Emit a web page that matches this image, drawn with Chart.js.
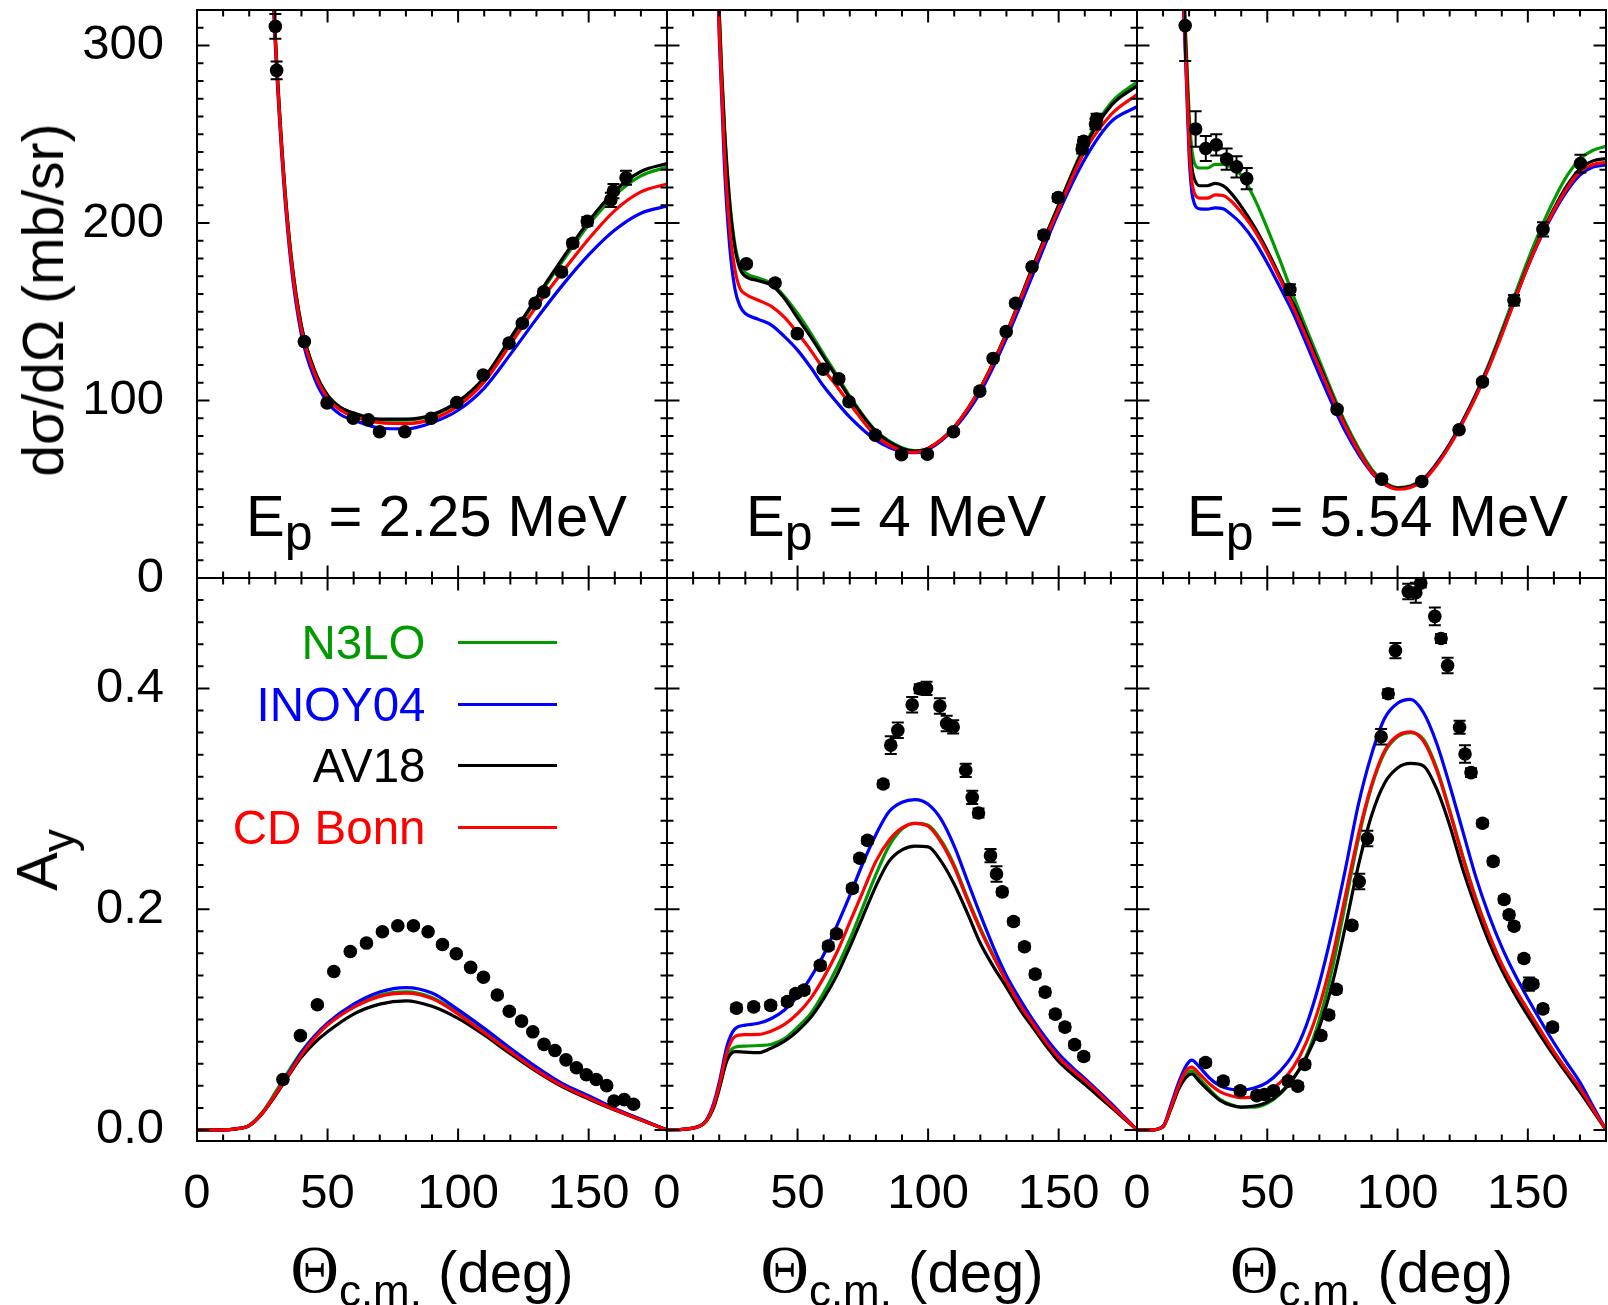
<!DOCTYPE html>
<html>
<head>
<meta charset="utf-8">
<title>Ay and cross sections</title>
<script src="https://cdn.jsdelivr.net/npm/chart.js@4/dist/chart.umd.min.js"></script>
<style>
html, body { margin:0; padding:0; background:#fff; width:1608px; height:1305px; overflow:hidden; }
canvas { position:absolute; }
.txt { position:absolute; font-family:"Liberation Sans", Arial, Helvetica, sans-serif; color:#000; white-space:nowrap; line-height:1; }
.serif { font-family:"Liberation Serif", "DejaVu Serif", serif; }
</style>
</head>
<body>
<script>
// ================= DATA =================
const modelNames = ['N3LO', 'INOY04', 'AV18', 'CD Bonn'];
const energyLabels = ['2.25', '4', '5.54'];
const angleTickValues = [0, 50, 100, 150];
const angleTickLabels = ['0', '50', '100', '150'];
const xsTickValues = [0, 100, 200, 300];
const xsTickLabels = ['0', '100', '200', '300'];
const ayTickValues = [0, 0.2, 0.4];
const ayTickLabels = ['0.0', '0.2', '0.4'];

// ---- dsigma/dOmega, Ep = 2.25 MeV ----
const xs225Angles  = [26,28,30,33,36,40,45,50,55,60,70,80,90,100,110,120,130,140,150,160,170,180];
const xs225N3LO    = [460,370,305,232,182,142,117,103,96,92.5,89,89,91.5,99,112.5,134,157,178.5,199,215.5,226.5,231.5];
const xs225INOY04  = [455,365,300,227,177,137,112.5,99,92,89,84.5,84,87.5,94.5,107,126,146,165,182,196,205.5,209.5];
const xs225AV18    = [460,370,305,232,182,142,117,103,96,93,89.5,89.5,92,99.5,113,135,158,180,201,218,229,233.5];
const xs225CDBonn  = [458,368,303,230,180,140,115.5,101.5,94.5,91,87.5,87,89.5,97,110.5,131.5,153,172.5,191,207,217.5,222];
const xs225ExpAngles = [30.0,30.5,41.1,49.8,59.8,65.6,69.9,79.6,89.7,99.5,109.6,119.5,124.6,129.5,132.8,139.6,143.9,149.5,158.5,159.5,164.3];
const xs225ExpValues = [310.8,286,133.2,98.6,90,89.1,82.4,82.4,90,98.9,114.4,132.3,143.5,154.7,161.2,172.4,188.6,200.9,213,218,225.5];
const xs225ExpErrors = [7,5,1,1,1,1,1,1,1,1,1,1,1,1,1.5,1.5,2,2.5,4,4,4];

// ---- dsigma/dOmega, Ep = 4 MeV ----
const xs4Angles  = [18,20,22,24,26,28,30,35,40,45,50,55,60,65,70,80,90,95,100,110,120,130,140,150,160,170,180];
const xs4N3LO    = [420,320,255,213,188,176,172,169,166,158.6,149,138,126,114.4,102.5,83,73.4,71.7,73,85,107,138,175,210,244,267.6,279.5];
const xs4INOY04  = [405,305,232,187,163,153,149,145.7,142.5,136,128.4,118.7,108,99,90.6,77.7,71.2,70.6,72.3,84.2,104.7,135,170.5,206,236,257,265.5];
const xs4AV18    = [418,318,253,211,186,174,170,167.5,165,157.5,146.5,136,124.5,113,101.5,82.5,73,71.5,73,85,107,138,175,210,243,266,277.3];
const xs4CDBonn  = [410,310,240,197,174,163,160,156.5,153,146.8,138,128.4,117.6,108,98.2,80,71.7,70.8,73,85,107,137.5,174,208,240.5,261,272.4];
const xs4ExpAngles = [30.4,41.4,49.9,59.8,65.8,69.7,79.8,89.8,99.7,109.7,119.8,124.9,129.9,133.5,139.8,144.3,149.8,159.0,159.6,164.1,164.5];
const xs4ExpValues = [177,166.2,137.7,117.6,112.2,99.3,80.5,69.5,69.7,82.4,105.3,123.7,138.8,154.8,175.3,193.2,214.3,241.7,246,255.8,258.6];
const xs4ExpErrors = [1.5,1.5,1.5,1.5,1.5,1.5,1.5,1.5,1.5,1.5,1.5,1.5,1.5,1.5,1.5,2,2,2.5,2.5,3,3];

// ---- dsigma/dOmega, Ep = 5.54 MeV ----
const xs554Angles  = [16,17,18,19,20,21,22,24,27,30,33,36,40,45,50,55,60,70,80,90,95,100,105,110,115,120,125,130,135,140,145,150,155,160,165,170,175,180];
const xs554N3LO    = [440,370,330,295,262,242,234,231,231,233,233,231.5,227,214,197,178.5,159,122.5,87.5,61.5,54,51,52,56,64.5,75.5,88.5,103.5,120.5,139.5,159.5,179,197,213,226.5,236,241,243.2];
const xs554INOY04  = [425,355,315,278,238,218,211,208,207.8,208.5,208,205,199.6,190,177.5,163.5,149,114.5,82.5,59.4,52.8,50.5,51.5,55.5,64.5,75.5,88.5,103,119.5,138,157,175.5,192,206,218,227,231.5,232.7];
const xs554AV18    = [435,365,325,290,252,232,225,221,221,222.3,221,217,209.4,198,184.5,169.5,154.5,120,86,60.4,53.5,50.5,51.5,55.5,64,75,88,102.5,119,137.5,157,176,193,208,221,230.5,235,236.3];
const xs554CDBonn  = [430,360,320,283,245,224,217,214,214,215.8,215.5,212.5,206,196,183,168,152.5,118.5,85.3,60,53,50,51,55,63.5,74.5,87.5,102,118.5,137,156.5,175.5,192.5,207,219.5,229,233,234.2];
const xs554ExpAngles = [18.5,22.5,26.4,30.4,34.4,38.2,42.1,58.7,76.8,93.9,109.3,123.6,132.6,144.7,155.8,170.2];
const xs554ExpValues = [311.2,253,242,244,236,231.6,225,162.5,95,55.7,54.4,83.5,110.5,156.5,196.4,233.5];
const xs554ExpErrors = [20,10,7,6,6,6,6,3,1.5,1.5,1.5,1.5,1.5,3,4,5];

// ---- Ay, Ep = 2.25 MeV ----
const ay225Angles  = [0,10,15,20,25,30,35,40,45,50,60,70,80,90,100,110,120,130,140,150,160,170,180];
const ay225N3LO    = [0,0,0.001,0.004,0.016,0.034,0.053,0.071,0.085,0.096,0.112,0.122,0.125,0.12,0.106,0.089,0.072,0.055,0.041,0.03,0.019,0.0095,0];
const ay225INOY04  = [0,0,0.001,0.004,0.015,0.032,0.051,0.07,0.085,0.097,0.114,0.125,0.129,0.124,0.109,0.092,0.074,0.057,0.042,0.031,0.0195,0.0097,0];
const ay225AV18    = [0,0,0.001,0.004,0.015,0.031,0.049,0.066,0.079,0.089,0.105,0.114,0.117,0.112,0.101,0.086,0.069,0.053,0.039,0.028,0.018,0.009,0];
const ay225CDBonn  = [0,0,0.001,0.004,0.015,0.032,0.05,0.068,0.083,0.095,0.111,0.121,0.124,0.119,0.105,0.088,0.071,0.054,0.04,0.029,0.0185,0.009,0];
const ay225ExpAngles = [32.9,39.6,46.1,52.4,58.7,64.9,71.0,76.9,82.9,88.5,94.0,99.3,104.8,109.7,115.0,119.6,124.3,128.6,132.9,137.1,141.3,145.3,149.1,152.9,156.9,159.7,163.6,167.2];
const ay225ExpValues = [0.0457,0.0855,0.1134,0.1435,0.1617,0.1693,0.1795,0.185,0.185,0.1795,0.168,0.1596,0.1473,0.1384,0.1223,0.1075,0.0986,0.0889,0.0775,0.072,0.0635,0.0563,0.05,0.0457,0.0402,0.0262,0.0275,0.0233];
const ay225ExpErrors = [0.002,0.002,0.002,0.002,0.002,0.002,0.002,0.002,0.002,0.002,0.002,0.002,0.002,0.002,0.002,0.002,0.002,0.002,0.002,0.002,0.002,0.002,0.002,0.002,0.002,0.002,0.002,0.002];

// ---- Ay, Ep = 4 MeV ----
const ay4Angles  = [0,10,15,18,20,23,26,30,35,40,45,50,55,60,65,70,75,80,85,90,95,100,105,110,115,120,125,130,135,140,145,150,155,160,165,170,175,180];
const ay4N3LO    = [0,0.0017,0.008,0.022,0.038,0.066,0.075,0.076,0.0765,0.0777,0.0828,0.0932,0.1053,0.1242,0.1467,0.1726,0.2019,0.2312,0.2571,0.2726,0.2778,0.2761,0.2623,0.2399,0.2105,0.1829,0.158,0.1346,0.114,0.0966,0.080,0.0656,0.054,0.0435,0.033,0.0224,0.0112,0];
const ay4INOY04  = [0,0.0017,0.0086,0.025,0.043,0.076,0.0915,0.095,0.0966,0.101,0.1087,0.1208,0.138,0.1588,0.1846,0.2122,0.2416,0.2675,0.2882,0.2968,0.2992,0.295,0.2813,0.2571,0.226,0.195,0.1657,0.1398,0.119,0.1001,0.0835,0.069,0.0572,0.0466,0.0355,0.0242,0.0122,0];
const ay4AV18    = [0,0.0017,0.008,0.021,0.037,0.063,0.071,0.0705,0.07,0.0742,0.0804,0.0897,0.1018,0.119,0.1398,0.1657,0.1933,0.2209,0.2433,0.2537,0.2571,0.2564,0.2433,0.2226,0.1967,0.1691,0.148,0.1294,0.1098,0.0932,0.0768,0.0621,0.0512,0.0414,0.031,0.0207,0.0104,0];
const ay4CDBonn  = [0,0.0017,0.008,0.023,0.04,0.0707,0.0845,0.0863,0.0865,0.0897,0.0956,0.1053,0.119,0.138,0.1605,0.188,0.2157,0.2433,0.2623,0.2737,0.2778,0.2751,0.2606,0.2381,0.2088,0.1812,0.157,0.1346,0.114,0.0966,0.080,0.0656,0.0545,0.0449,0.034,0.0224,0.0113,0];
const ay4ExpAngles = [26.6,33.2,39.7,46.1,49.3,52.5,58.7,61.8,64.9,71.0,73.8,76.8,82.8,85.7,88.4,93.9,96.8,99.4,104.5,107.1,109.6,114.4,116.9,119.3,123.9,126.2,128.4,132.7,136.9,141.0,144.8,148.7,152.4,156.1,159.6];
const ay4ExpValues = [0.1104,0.1115,0.1129,0.1163,0.1236,0.1267,0.1491,0.1667,0.1777,0.2188,0.2461,0.2623,0.3134,0.3486,0.362,0.3852,0.3997,0.4,0.3841,0.3682,0.3651,0.3258,0.3013,0.2871,0.2485,0.2319,0.2157,0.1888,0.166,0.1412,0.1249,0.1049,0.0932,0.0773,0.0666];
const ay4ExpErrors = [0.003,0.003,0.003,0.003,0.003,0.003,0.003,0.003,0.003,0.003,0.003,0.003,0.003,0.008,0.007,0.007,0.004,0.006,0.007,0.007,0.006,0.006,0.006,0.004,0.006,0.007,0.003,0.003,0.003,0.003,0.003,0.003,0.003,0.003,0.003];

// ---- Ay, Ep = 5.54 MeV ----
const ay554Angles  = [0,5,10,13,16,19,21,24,28,32,36,40,45,50,55,60,65,70,75,80,85,90,95,100,105,110,115,120,125,130,135,140,145,150,155,160,165,170,175,180];
const ay554N3LO    = [0,0,0.003,0.019,0.038,0.05,0.0535,0.0466,0.0362,0.0276,0.0231,0.0207,0.0207,0.0242,0.0328,0.0466,0.0673,0.1001,0.1467,0.2053,0.264,0.3106,0.3417,0.3562,0.36,0.3538,0.3279,0.2899,0.2485,0.2105,0.1777,0.15,0.128,0.1087,0.0893,0.0708,0.054,0.038,0.019,0];
const ay554INOY04  = [0,0,0.0035,0.0224,0.0431,0.0587,0.0632,0.0569,0.0466,0.0397,0.0369,0.0362,0.038,0.0431,0.0535,0.069,0.0949,0.1329,0.1812,0.2364,0.2951,0.34,0.3727,0.3865,0.39,0.3779,0.3503,0.3123,0.2709,0.2295,0.195,0.1657,0.141,0.1191,0.0985,0.079,0.0608,0.0431,0.0215,0];
const ay554AV18    = [0,0,0.003,0.019,0.037,0.048,0.0507,0.0438,0.0345,0.0266,0.0224,0.0207,0.0217,0.0252,0.0335,0.0466,0.0656,0.0932,0.1329,0.1846,0.2399,0.2847,0.3141,0.3279,0.332,0.3296,0.3089,0.2761,0.2364,0.2019,0.1708,0.145,0.123,0.1035,0.085,0.0673,0.051,0.0345,0.0173,0];
const ay554CDBonn  = [0,0,0.003,0.02,0.04,0.054,0.0569,0.0507,0.0414,0.0345,0.031,0.0293,0.03,0.0345,0.0431,0.0569,0.0794,0.1122,0.157,0.2123,0.2675,0.3123,0.3434,0.3572,0.3607,0.352,0.3261,0.2882,0.2468,0.2088,0.1777,0.1501,0.128,0.1087,0.0895,0.0708,0.054,0.038,0.019,0];
const ay554ExpAngles = [26.3,33.1,39.6,46.0,48.9,52.4,58.1,61.7,64.4,70.6,73.6,76.5,82.5,85.3,88.4,93.7,96.4,99.2,104.1,107.0,108.9,114.3,116.7,119.2,123.8,125.9,128.2,132.6,136.7,140.9,142.8,144.7,148.5,150.4,152.0,155.8,159.5];
const ay554ExpValues = [0.0611,0.0442,0.0355,0.0311,0.0321,0.0355,0.0442,0.0397,0.0594,0.0856,0.1042,0.1274,0.1853,0.225,0.264,0.3562,0.3952,0.4342,0.4877,0.4866,0.4953,0.4652,0.4452,0.4207,0.3648,0.3406,0.3237,0.2778,0.2433,0.2088,0.195,0.1846,0.1553,0.1322,0.1322,0.1097,0.0932];
const ay554ExpErrors = [0.003,0.003,0.003,0.003,0.003,0.003,0.003,0.003,0.003,0.003,0.003,0.003,0.003,0.007,0.007,0.007,0.004,0.007,0.007,0.009,0.004,0.008,0.004,0.007,0.006,0.008,0.004,0.003,0.003,0.003,0.003,0.003,0.003,0.006,0.003,0.003,0.003];

// ================= STYLE / LAYOUT =================
const MODEL_COLORS = { 'N3LO': '#009a00', 'INOY04': '#0000ff', 'AV18': '#000000', 'CD Bonn': '#ff0000' };
const FONT = '"Liberation Sans", Arial, Helvetica, sans-serif';
Chart.defaults.font.family = FONT;
Chart.defaults.color = '#000';

const X_EDGES = [197, 667, 1137, 1606];
const Y_EDGES = [10, 578, 1141];
const M = 80, AXIS_L = 197, AXIS_B = 164;
const TICK_FONT = 49;

function framePlugin(isXS) {
  return {
    id: 'frameTicks',
    afterDraw(chart) {
      const { ctx, chartArea: a, scales: { x, y } } = chart;
      ctx.save();
      ctx.strokeStyle = '#000';
      ctx.lineWidth = 2;
      ctx.beginPath();
      for (let k = 1; k < 18; k++) {
        const v = k * 10;
        const L = (v % 50 === 0) ? 12.5 : 6.5;
        const px = x.getPixelForValue(v);
        ctx.moveTo(px, a.bottom); ctx.lineTo(px, a.bottom - L);
        ctx.moveTo(px, a.top); ctx.lineTo(px, a.top + L);
      }
      const n = isXS ? 32 : 25;
      for (let k = 0; k < n; k++) {
        const v = isXS ? k * 10 : k * 0.02;
        const L = (k % 10 === 0) ? 12.5 : 6.5;
        const py = y.getPixelForValue(v);
        ctx.moveTo(a.left, py); ctx.lineTo(a.left + L, py);
        ctx.moveTo(a.right, py); ctx.lineTo(a.right - L, py);
      }
      ctx.stroke();
      ctx.strokeRect(a.left, a.top, a.right - a.left, a.bottom - a.top);
      ctx.restore();
    }
  };
}

const errorBarPlugin = {
  id: 'errorBars',
  afterDatasetsDraw(chart) {
    const { ctx, chartArea: a, scales: { x, y } } = chart;
    const ds = chart.data.datasets[0];
    ctx.save();
    ctx.beginPath();
    ctx.rect(a.left, a.top, a.right - a.left, a.bottom - a.top);
    ctx.clip();
    ctx.strokeStyle = '#000';
    ctx.lineWidth = 2;
    ctx.beginPath();
    ds.data.forEach(pt => {
      if (!pt.e) return;
      const px = x.getPixelForValue(pt.x);
      const lo = y.getPixelForValue(pt.y - pt.e);
      const hi = y.getPixelForValue(pt.y + pt.e);
      ctx.moveTo(px, lo); ctx.lineTo(px, hi);
      ctx.moveTo(px - 6, lo); ctx.lineTo(px + 6, lo);
      ctx.moveTo(px - 6, hi); ctx.lineTo(px + 6, hi);
    });
    ctx.stroke();
    ctx.restore();
  }
};

function makePanel(cfg) {
  const { col, row } = cfg;
  const left = X_EDGES[col], right = X_EDGES[col + 1], top = Y_EDGES[row], bottom = Y_EDGES[row + 1];
  const showY = col === 0, showX = row === 1;
  const aL = showY ? AXIS_L : 0;
  const aB = showX ? AXIS_B : 0;
  const cw = M + aL + (right - left) + M;
  const chh = M + (bottom - top) + aB + M;
  const cv = document.createElement('canvas');
  cv.width = cw; cv.height = chh;
  cv.style.left = (left - aL - M) + 'px';
  cv.style.top = (top - M) + 'px';
  cv.style.width = cw + 'px';
  cv.style.height = chh + 'px';
  document.body.appendChild(cv);

  const isXS = row === 0;
  const datasets = [{
    label: 'data',
    data: cfg.expAngles.map((a, i) => ({ x: a, y: cfg.expValues[i], e: cfg.expErrors[i] })),
    showLine: false,
    pointRadius: 6.8, pointHoverRadius: 6.8,
    pointBackgroundColor: '#000', pointBorderWidth: 0,
    borderColor: '#000', backgroundColor: '#000'
  }];
  ['CD Bonn', 'AV18', 'INOY04', 'N3LO'].forEach(name => {
    datasets.push({
      label: name,
      data: cfg.angles.map((a, i) => ({ x: a, y: cfg.curves[name][i] })),
      showLine: true, pointRadius: 0, pointHoverRadius: 0,
      borderColor: MODEL_COLORS[name], backgroundColor: MODEL_COLORS[name],
      borderWidth: 3.2, cubicInterpolationMode: 'monotone', fill: false
    });
  });

  const yVals = isXS ? xsTickValues : ayTickValues;
  const yLabs = isXS ? xsTickLabels : ayTickLabels;

  new Chart(cv, {
    type: 'scatter',
    data: { datasets },
    options: {
      responsive: false, animation: false, devicePixelRatio: 1, events: [],
      layout: { padding: M },
      plugins: { legend: { display: false }, tooltip: { enabled: false } },
      scales: {
        x: {
          type: 'linear', min: 0, max: 180, position: 'bottom', display: showX,
          grid: { display: false, drawTicks: false }, border: { display: false },
          afterBuildTicks: s => { s.ticks = angleTickValues.map(v => ({ value: v })); },
          afterFit: s => { if (showX) s.height = AXIS_B; },
          ticks: {
            autoSkip: false, maxRotation: 0, padding: 24, color: '#000',
            font: { size: TICK_FONT, lineHeight: 1.2 },
            callback: (v, i) => angleTickLabels[i]
          }
        },
        y: {
          type: 'linear', min: isXS ? 0 : -0.01, max: isXS ? 320 : 0.5, position: 'left', display: showY,
          grid: { display: false, drawTicks: false }, border: { display: false },
          afterBuildTicks: s => { s.ticks = yVals.map(v => ({ value: v })); },
          afterFit: s => { if (showY) s.width = AXIS_L; },
          ticks: {
            autoSkip: false, padding: 33, color: '#000',
            font: { size: TICK_FONT, lineHeight: 1.2 },
            callback: (v, i) => yLabs[i]
          }
        }
      }
    },
    plugins: [errorBarPlugin, framePlugin(isXS)]
  });
}

const panels = [
  { col: 0, row: 0, angles: xs225Angles, curves: { 'N3LO': xs225N3LO, 'INOY04': xs225INOY04, 'AV18': xs225AV18, 'CD Bonn': xs225CDBonn }, expAngles: xs225ExpAngles, expValues: xs225ExpValues, expErrors: xs225ExpErrors },
  { col: 1, row: 0, angles: xs4Angles, curves: { 'N3LO': xs4N3LO, 'INOY04': xs4INOY04, 'AV18': xs4AV18, 'CD Bonn': xs4CDBonn }, expAngles: xs4ExpAngles, expValues: xs4ExpValues, expErrors: xs4ExpErrors },
  { col: 2, row: 0, angles: xs554Angles, curves: { 'N3LO': xs554N3LO, 'INOY04': xs554INOY04, 'AV18': xs554AV18, 'CD Bonn': xs554CDBonn }, expAngles: xs554ExpAngles, expValues: xs554ExpValues, expErrors: xs554ExpErrors },
  { col: 0, row: 1, angles: ay225Angles, curves: { 'N3LO': ay225N3LO, 'INOY04': ay225INOY04, 'AV18': ay225AV18, 'CD Bonn': ay225CDBonn }, expAngles: ay225ExpAngles, expValues: ay225ExpValues, expErrors: ay225ExpErrors },
  { col: 1, row: 1, angles: ay4Angles, curves: { 'N3LO': ay4N3LO, 'INOY04': ay4INOY04, 'AV18': ay4AV18, 'CD Bonn': ay4CDBonn }, expAngles: ay4ExpAngles, expValues: ay4ExpValues, expErrors: ay4ExpErrors },
  { col: 2, row: 1, angles: ay554Angles, curves: { 'N3LO': ay554N3LO, 'INOY04': ay554INOY04, 'AV18': ay554AV18, 'CD Bonn': ay554CDBonn }, expAngles: ay554ExpAngles, expValues: ay554ExpValues, expErrors: ay554ExpErrors }
];
panels.forEach(makePanel);

// ================= TEXT =================
function addText(html, style) {
  const d = document.createElement('div');
  d.className = 'txt';
  d.innerHTML = html;
  Object.assign(d.style, style);
  document.body.appendChild(d);
  return d;
}

const energyLeft = [246, 746, 1187];
energyLabels.forEach((e, i) => {
  addText('E<span style="position:relative;top:14px;font-size:50px">p</span> = ' + e + ' MeV',
    { left: energyLeft[i] + 'px', top: '487px', fontSize: '58px' });
});

[0, 1, 2].forEach(c => {
  const cx = (X_EDGES[c] + X_EDGES[c + 1]) / 2;
  addText('<span class="serif" style="font-size:67px">&Theta;</span><span style="position:relative;top:14px;font-size:44px">c.m.</span> (deg)',
    { left: cx + 'px', top: '1236px', fontSize: '58px', transform: 'translateX(-50%)' });
});

addText('d&sigma;/d&Omega; (mb/sr)',
  { left: '15px', top: '300px', fontSize: '57px', transformOrigin: '0 0', transform: 'rotate(-90deg) translateX(-50%)' });
addText('A<span style="position:relative;top:17px;font-size:46px">y</span>',
  { left: '8px', top: '860px', fontSize: '58px', transformOrigin: '0 0', transform: 'rotate(-90deg) translateX(-50%)' });

const legendY = [642.5, 704, 765.5, 827];
modelNames.forEach((name, i) => {
  addText(name, { right: (1608 - 425.5) + 'px', top: (legendY[i] - 23.2) + 'px', fontSize: '47.5px', color: MODEL_COLORS[name], textAlign: 'right' });
  const ln = document.createElement('div');
  Object.assign(ln.style, { position: 'absolute', left: '458px', width: '99px', height: '3px', top: (legendY[i] - 1.5) + 'px', background: MODEL_COLORS[name] });
  document.body.appendChild(ln);
});
</script>
</body>
</html>
